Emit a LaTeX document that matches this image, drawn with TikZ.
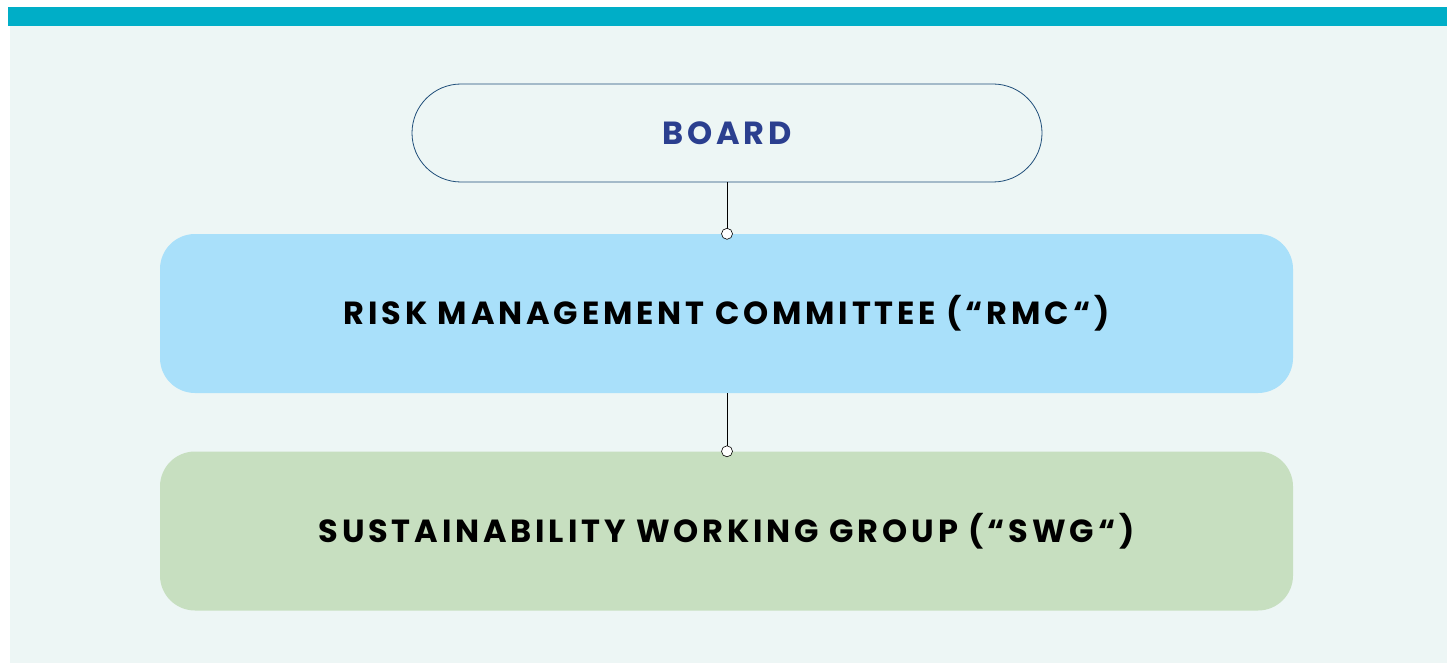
\documentclass[tikz,border=0pt]{standalone}
\usepackage{fontspec}
\setmainfont{Poppins}
\newfontfamily\labelfont[LetterSpace=12]{Poppins}
\definecolor{barteal}{HTML}{00AEC7}
\definecolor{panelbg}{HTML}{EDF6F5}
\definecolor{boardline}{HTML}{1F4E79}
\definecolor{boardtext}{HTML}{2B3F8F}
\definecolor{rmcblue}{HTML}{A9E0FA}
\definecolor{swggreen}{HTML}{C7DFC0}
\tikzset{
  boxlabel/.style={font=\labelfont\bfseries\fontsize{32}{38}\selectfont, text=black},
  tierbox/.style={rounded corners=35pt, minimum width=1133pt, minimum height=159pt, inner sep=0pt},
  link/.style={draw=black, line width=0.8pt},
  joint/.style={circle, draw=black, fill=white, line width=0.6pt, minimum size=11pt, inner sep=0pt},
}
\begin{document}
\begin{tikzpicture}[x=1pt, y=-1pt]
  \useasboundingbox (0,0) rectangle (1447,663);
  % background panel and header strip
  \fill[panelbg] (10,26) rectangle (1447,663);
  \fill[barteal] (8,7) rectangle (1447,26);
  % boxes
  \node[draw=boardline, line width=0.8pt, rounded corners=49pt, minimum width=630pt, minimum height=98pt,
        inner sep=0pt, font=\labelfont\bfseries\fontsize{32}{38}\selectfont, text=boardtext]
        (board) at (727,133) {BOARD};
  \node[tierbox, fill=rmcblue, boxlabel] (rmc) at (726.5,313.5) {RISK MANAGEMENT COMMITTEE (“RMC“)};
  \node[tierbox, fill=swggreen, boxlabel] (swg) at (726.5,531) {SUSTAINABILITY WORKING GROUP (“SWG“)};
  % connectors
  \coordinate (j1) at (board.south |- rmc.north);
  \coordinate (j2) at (board.south |- swg.north);
  \draw[link] (board.south) -- (j1);
  \draw[link] (board.south |- rmc.south) -- (j2);
  \node[joint] (d1) at (j1) {};
  \node[joint] (d2) at (j2) {};
\end{tikzpicture}
\end{document}
